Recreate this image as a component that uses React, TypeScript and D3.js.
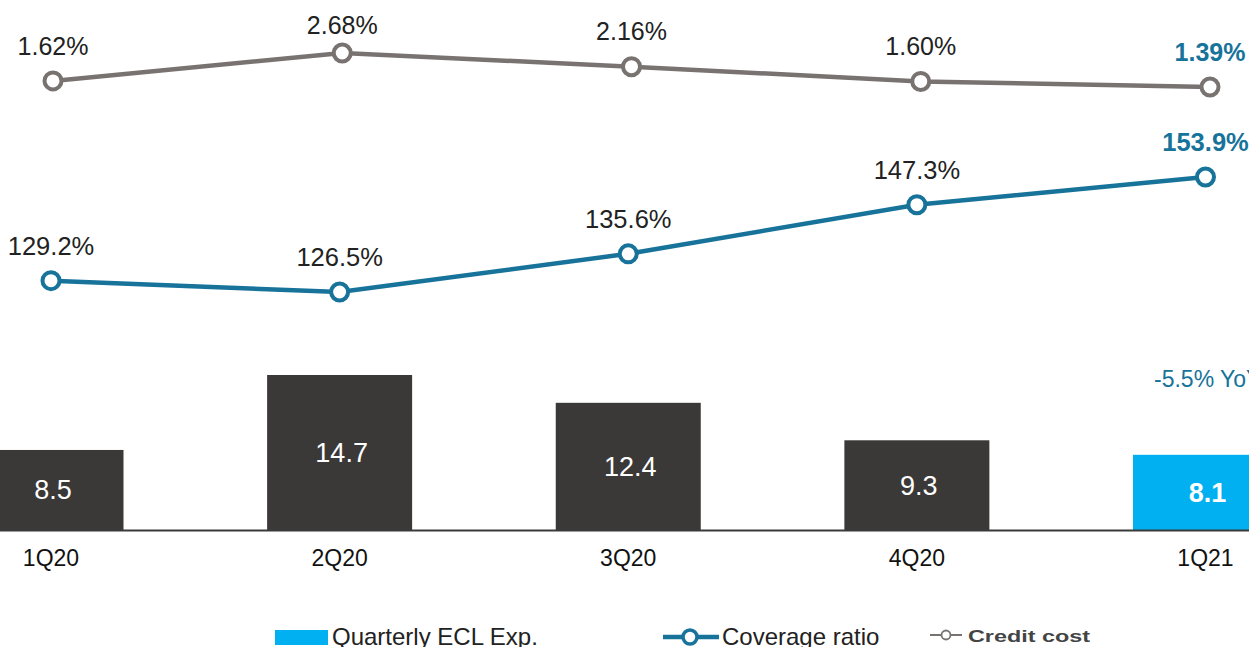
import React from "react";
import * as d3 from "d3";

const categories = ["1Q20", "2Q20", "3Q20", "4Q20", "1Q21"];
const eclValues = [8.5, 14.7, 12.4, 9.3, 8.1];
const coverageValues = [129.2, 126.5, 135.6, 147.3, 153.9];
const creditValues = [1.62, 2.68, 2.16, 1.6, 1.39];
const coverageLabels = ["129.2%", "126.5%", "135.6%", "147.3%", "153.9%"];
const creditLabels = ["1.62%", "2.68%", "2.16%", "1.60%", "1.39%"];
const yoyLabel = "-5.5% YoY";
const legendLabels = ["Quarterly ECL Exp.", "Coverage ratio", "Credit cost"];

const W = 1249;
const H = 647;
const FONT = "Liberation Sans, Arial, sans-serif";
const DARK = "#3b3937";
const CYAN = "#00b0f0";
const TEAL = "#17739a";
const GRAY = "#787371";

export default function App() {
  const x = d3.scalePoint<string>().domain(categories).range([51, 1205.5]);
  const xCredit = d3.scalePoint<string>().domain(categories).range([53, 1210]);
  const barW = 145;
  const yBar = d3.scaleLinear().domain([1.88, 14.7]).range([530, 375]);
  const yCov = d3.scaleLinear().domain([126.5, 153.9]).range([292, 177]);
  const yCred = d3.scaleLinear().domain([1.39, 2.68]).range([87, 53]);

  const covLine = d3
    .line<number>()
    .x((_, i) => x(categories[i])!)
    .y((d) => yCov(d));
  const credLine = d3
    .line<number>()
    .x((_, i) => xCredit(categories[i])!)
    .y((d) => yCred(d));

  const last = categories.length - 1;

  return (
    <svg
      width={W}
      height={H}
      style={{ position: "absolute", left: 0, top: 0, background: "#fff" }}
      fontFamily={FONT}
    >
      {/* bars */}
      {eclValues.map((v, i) => {
        const cx = x(categories[i])!;
        const top = yBar(v);
        return (
          <g key={"b" + i}>
            <rect
              x={cx - barW / 2}
              y={top}
              width={barW}
              height={yBar.range()[0] - top}
              fill={i === last ? CYAN : DARK}
            />
            <text
              x={cx + 2}
              y={(top + 530) / 2}
              dy="0.35em"
              textAnchor="middle"
              fontSize={27}
              fill="#fff"
              fontWeight={i === last ? "bold" : "normal"}
            >
              {v.toFixed(1)}
            </text>
          </g>
        );
      })}
      <line x1={0} x2={W} y1={530.5} y2={530.5} stroke="#3a3a3a" strokeWidth={2} />

      {/* x labels */}
      {categories.map((c) => (
        <text
          key={c}
          x={x(c)!}
          y={558}
          dy="0.35em"
          textAnchor="middle"
          fontSize={23}
          fill="#111"
        >
          {c}
        </text>
      ))}

      <text x={1154} y={379} dy="0.35em" fontSize={23} fill={TEAL}>
        {yoyLabel}
      </text>

      {/* coverage line */}
      <path d={covLine(coverageValues)!} fill="none" stroke={TEAL} strokeWidth={4.5} />
      {coverageValues.map((v, i) => (
        <g key={"c" + i}>
          <circle cx={x(categories[i])!} cy={yCov(v)} r={8.5} fill="#fff" stroke={TEAL} strokeWidth={4} />
          <text
            x={x(categories[i])!}
            y={yCov(v) - 35}
            dy="0.35em"
            textAnchor="middle"
            fontSize={25.5}
            fill={i === last ? TEAL : "#222"}
            fontWeight={i === last ? "bold" : "normal"}
          >
            {coverageLabels[i]}
          </text>
        </g>
      ))}

      {/* credit cost line */}
      <path d={credLine(creditValues)!} fill="none" stroke={GRAY} strokeWidth={4.5} />
      {creditValues.map((v, i) => (
        <g key={"k" + i}>
          <circle cx={xCredit(categories[i])!} cy={yCred(v)} r={8.5} fill="#fff" stroke={GRAY} strokeWidth={4} />
          <text
            x={xCredit(categories[i])!}
            y={Math.max(yCred(v) - 35, 25)}
            dy="0.35em"
            textAnchor="middle"
            fontSize={25}
            fill={i === last ? TEAL : "#222"}
            fontWeight={i === last ? "bold" : "normal"}
          >
            {creditLabels[i]}
          </text>
        </g>
      ))}

      {/* legend */}
      <rect x={275} y={630} width={53} height={15} fill={CYAN} />
      <text x={332} y={645} fontSize={24} fill="#222">
        {legendLabels[0]}
      </text>
      <line x1={663} x2={719} y1={637} y2={637} stroke={TEAL} strokeWidth={4.5} />
      <circle cx={690} cy={637} r={7} fill="#fff" stroke={TEAL} strokeWidth={3.5} />
      <text x={722} y={645} fontSize={24} fill="#222">
        {legendLabels[1]}
      </text>
      <line x1={930} x2={962} y1={635} y2={635} stroke={GRAY} strokeWidth={2} />
      <circle cx={946} cy={635} r={4.5} fill="#fff" stroke={GRAY} strokeWidth={1.8} />
      <text
        x={968}
        y={642}
        fontSize={17}
        fill="#444"
        fontWeight="bold"
        textLength={122}
        lengthAdjust="spacingAndGlyphs"
      >
        {legendLabels[2]}
      </text>
    </svg>
  );
}
